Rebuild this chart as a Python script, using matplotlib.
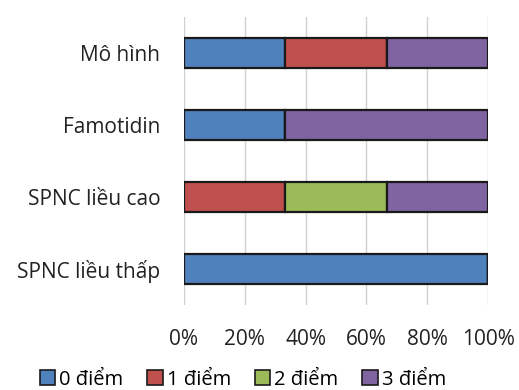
import numpy as np
import matplotlib

matplotlib.use("Agg")
import matplotlib.pyplot as plt  # noqa: E402
from matplotlib.patches import Patch  # noqa: E402

plt.rcParams["font.family"] = ["Open Sans", "DejaVu Sans"]

GROUPS = ["Mô hình", "Famotidin", "SPNC liều cao", "SPNC liều thấp"]
SERIES = ["0 điểm", "1 điểm", "2 điểm", "3 điểm"]
# percent of each group per score
P0 = [33.3, 33.3, 0.0, 100.0]
P1 = [33.3, 0.0, 33.3, 0.0]
P2 = [0.0, 0.0, 33.3, 0.0]
P3 = [33.4, 66.7, 33.4, 0.0]
COLORS = ["#4F81BD", "#C0504D", "#9BBB59", "#8064A2"]
XTICKS = [0, 20, 40, 60, 80, 100]

fig = plt.figure(figsize=(5.19, 3.9), dpi=100)
ax = fig.add_axes([0.3545, 0.218, 0.586, 0.738])

y = np.arange(len(GROUPS))[::-1]
left = np.zeros(len(GROUPS))
for vals, col, lab in zip((P0, P1, P2, P3), COLORS, SERIES):
    v = np.array(vals)
    ax.barh(y, v, left=left, height=0.42, color=col, edgecolor="#1a1a1a",
            linewidth=1.6, label=lab, zorder=3)
    left += v

ax.set_xlim(0, 100)
ax.set_ylim(-0.5, len(GROUPS) - 0.5)
ax.set_xticks(XTICKS)
ax.set_xticklabels([f"{t}%" for t in XTICKS])
ax.set_yticks(y)
ax.set_yticklabels(GROUPS)
ax.tick_params(axis="both", length=0, labelsize=15, colors="#222222")
ax.tick_params(axis="x", pad=17)
ax.tick_params(axis="y", pad=17)
ax.grid(axis="x", color="#d0d0d0", linewidth=1.0, zorder=0)
for s in ax.spines.values():
    s.set_visible(False)

handles = [Patch(facecolor=c, edgecolor="#1a1a1a", linewidth=1.2) for c in COLORS]
fig.legend(handles, SERIES, loc="center", bbox_to_anchor=(0.468, 0.026),
           ncol=4, frameon=False, fontsize=14.5, handlelength=0.75,
           handleheight=0.75, handletextpad=0.2, columnspacing=1.2)

fig.savefig("out.png", dpi=100)
